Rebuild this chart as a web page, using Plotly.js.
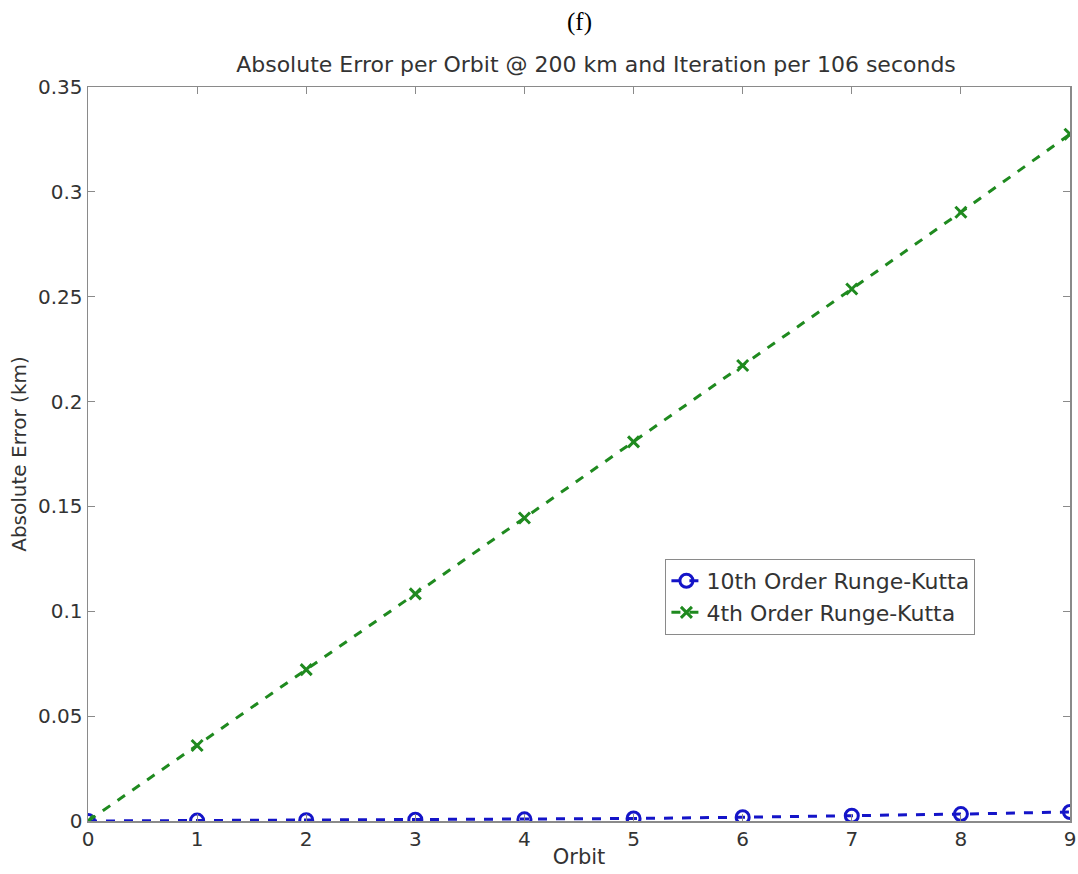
<!DOCTYPE html>
<html>
<head>
<meta charset="utf-8">
<script src="https://cdn.plot.ly/plotly-3.0.1.min.js"></script>
<style>html,body{margin:0;padding:0;background:#fff;}#chart{width:1078px;height:874px;}</style>
</head>
<body>
<div id="chart"></div>
<script>
var orbits = [0, 1, 2, 3, 4, 5, 6, 7, 8, 9];
var rk10 = [0, 0.0002, 0.0004, 0.0006, 0.0008, 0.0012, 0.0018, 0.0025, 0.0033, 0.0043];
var rk4 = [0, 0.0360, 0.0722, 0.1083, 0.1445, 0.1808, 0.2172, 0.2537, 0.2903, 0.3275];
var yTicks = [0, 0.05, 0.1, 0.15, 0.2, 0.25, 0.3, 0.35];
var yTickText = ['0', '0.05', '0.1', '0.15', '0.2', '0.25', '0.3', '0.35'];

var FONT = 'DejaVu Sans, Arial, sans-serif';
var TXT = '#333';

var traces = [
  {x: orbits, y: rk10, name: '10th Order Runge-Kutta', mode: 'lines+markers',
   line: {color: '#1414c8', width: 3, dash: 'dash'},
   marker: {symbol: 'circle-open', size: 13, color: '#1414c8', line: {width: 3, color: '#1414c8'}}},
  {x: orbits, y: rk4, name: '4th Order Runge-Kutta', mode: 'lines+markers',
   line: {color: '#1f8a1f', width: 3, dash: 'dash'},
   marker: {symbol: 'x-thin-open', size: 11, color: '#1f8a1f', line: {width: 3, color: '#1f8a1f'}}}
];

var axisCommon = {
  showline: true, linecolor: '#8a8a8a', linewidth: 1.5, mirror: 'ticks',
  ticks: 'inside', ticklen: 7, tickcolor: '#8a8a8a', tickwidth: 1.2,
  showgrid: false, zeroline: false,
  tickfont: {family: FONT, size: 20, color: TXT}
};

var layout = {
  width: 1078, height: 874,
  margin: {l: 88, r: 8, t: 87, b: 53},
  paper_bgcolor: '#fff', plot_bgcolor: '#fff',
  showlegend: true,
  title: {text: 'Absolute Error per Orbit @ 200 km and Iteration per 106 seconds',
          font: {family: FONT, size: 22, color: TXT},
          x: 596/1078, xanchor: 'center', xref: 'container',
          y: 1 - 64/874, yanchor: 'middle', yref: 'container'},
  xaxis: Object.assign({}, axisCommon, {
    range: [0, 9], tickvals: orbits, ticktext: orbits.map(String),
    ticklabelstandoff: -1,
    title: {text: 'Orbit', standoff: 0, font: {family: FONT, size: 21, color: TXT}}
  }),
  yaxis: Object.assign({}, axisCommon, {
    range: [0, 0.35], tickvals: yTicks, ticktext: yTickText,
    title: {text: 'Absolute Error (km)', standoff: 6, font: {family: FONT, size: 20, color: TXT}}
  }),
  legend: {
    x: 0.588, y: 0.357, xanchor: 'left', yanchor: 'top',
    bgcolor: '#fff', bordercolor: '#8a8a8a', borderwidth: 1,
    font: {family: FONT, size: 22, color: TXT},
    tracegroupgap: 0, itemwidth: 30
  },
  annotations: [{
    text: '(f)', xref: 'paper', yref: 'paper', x: 0.5, y: 1 + 65/734,
    xanchor: 'center', yanchor: 'middle', showarrow: false,
    font: {family: 'Liberation Serif, Times New Roman', size: 25, color: '#000'}
  }]
};

Plotly.newPlot('chart', traces, layout, {displayModeBar: false, staticPlot: true});
</script>
</body>
</html>
